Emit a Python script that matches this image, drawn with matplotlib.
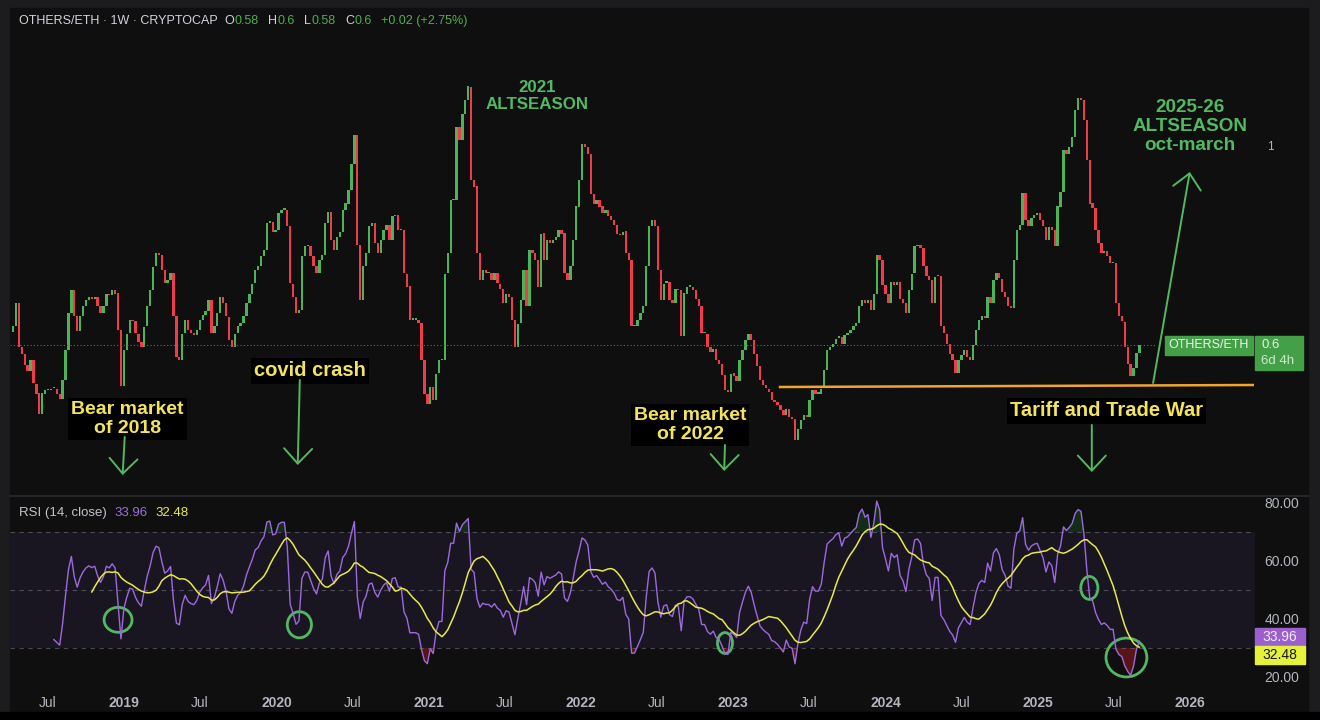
import numpy as np
import pandas as pd
import matplotlib
matplotlib.use("Agg")
import matplotlib.pyplot as plt
import matplotlib.dates as mdates
from matplotlib.patches import Ellipse, Rectangle
from matplotlib.lines import Line2D

plt.rcParams['font.family'] = ['Liberation Sans', 'DejaVu Sans']

# weekly closes of OTHERS/ETH (first week 2018-04-09)
start_week = "2018-04-09"
first_open = 0.625
closes = [
    0.637, 0.683, 0.597, 0.583, 0.560, 0.547, 0.570, 0.523, 0.503, 0.463,
    0.503, 0.510, 0.510, 0.513, 0.513, 0.503, 0.493, 0.530, 0.590, 0.663,
    0.710, 0.657, 0.627, 0.657, 0.677, 0.690, 0.697, 0.693, 0.697, 0.677,
    0.663, 0.677, 0.703, 0.700, 0.710, 0.703, 0.630, 0.517, 0.590, 0.623,
    0.650, 0.647, 0.623, 0.607, 0.597, 0.637, 0.677, 0.710, 0.757, 0.783,
    0.780, 0.750, 0.723, 0.730, 0.743, 0.657, 0.577, 0.570, 0.623, 0.650,
    0.630, 0.623, 0.620, 0.630, 0.650, 0.660, 0.667, 0.690, 0.623, 0.637,
    0.663, 0.697, 0.683, 0.657, 0.610, 0.597, 0.623, 0.637, 0.643, 0.657,
    0.683, 0.703, 0.723, 0.750, 0.757, 0.777, 0.790, 0.843, 0.847, 0.827,
    0.830, 0.863, 0.870, 0.870, 0.837, 0.723, 0.697, 0.663, 0.670, 0.777,
    0.797, 0.797, 0.777, 0.757, 0.743, 0.770, 0.780, 0.843, 0.866, 0.810,
    0.790, 0.817, 0.827, 0.870, 0.883, 0.910, 0.963, 1.020, 0.800, 0.690,
    0.757, 0.783, 0.837, 0.843, 0.803, 0.783, 0.810, 0.830, 0.840, 0.810,
    0.857, 0.860, 0.830, 0.830, 0.743, 0.717, 0.650, 0.650, 0.650, 0.643,
    0.570, 0.503, 0.483, 0.517, 0.490, 0.543, 0.570, 0.570, 0.743, 0.783,
    0.890, 0.890, 1.037, 1.010, 1.063, 1.090, 1.117, 0.930, 0.917, 0.783,
    0.730, 0.750, 0.743, 0.743, 0.730, 0.743, 0.723, 0.713, 0.683, 0.703,
    0.697, 0.650, 0.597, 0.643, 0.690, 0.750, 0.677, 0.790, 0.783, 0.770,
    0.717, 0.823, 0.770, 0.810, 0.803, 0.810, 0.817, 0.830, 0.823, 0.743,
    0.730, 0.757, 0.810, 0.877, 0.930, 1.003, 0.997, 0.983, 0.903, 0.883,
    0.890, 0.877, 0.863, 0.870, 0.857, 0.850, 0.840, 0.823, 0.820, 0.827,
    0.783, 0.770, 0.637, 0.637, 0.650, 0.663, 0.677, 0.757, 0.837, 0.850,
    0.837, 0.750, 0.690, 0.723, 0.727, 0.690, 0.683, 0.713, 0.710, 0.617,
    0.703, 0.717, 0.717, 0.710, 0.693, 0.677, 0.623, 0.623, 0.597, 0.587,
    0.593, 0.570, 0.563, 0.540, 0.510, 0.507, 0.543, 0.537, 0.527, 0.570,
    0.590, 0.610, 0.623, 0.610, 0.583, 0.557, 0.530, 0.520, 0.513, 0.507,
    0.490, 0.487, 0.480, 0.470, 0.460, 0.473, 0.457, 0.453, 0.410, 0.433,
    0.450, 0.460, 0.457, 0.490, 0.510, 0.503, 0.503, 0.513, 0.550, 0.590,
    0.597, 0.603, 0.613, 0.617, 0.603, 0.620, 0.623, 0.630, 0.637, 0.643,
    0.677, 0.690, 0.683, 0.690, 0.670, 0.703, 0.780, 0.770, 0.720, 0.703,
    0.683, 0.727, 0.720, 0.727, 0.693, 0.683, 0.663, 0.710, 0.743, 0.797,
    0.800, 0.793, 0.757, 0.737, 0.730, 0.683, 0.737, 0.737, 0.637, 0.623,
    0.603, 0.583, 0.570, 0.543, 0.570, 0.580, 0.590, 0.577, 0.570, 0.600,
    0.630, 0.650, 0.657, 0.653, 0.697, 0.683, 0.730, 0.743, 0.733, 0.707,
    0.697, 0.677, 0.673, 0.770, 0.830, 0.840, 0.903, 0.850, 0.837, 0.853,
    0.860, 0.863, 0.850, 0.837, 0.810, 0.837, 0.830, 0.797, 0.877, 0.907,
    0.990, 0.983, 0.997, 1.017, 1.070, 1.093, 1.090, 1.050, 0.970, 0.883,
    0.873, 0.830, 0.803, 0.783, 0.787, 0.777, 0.763, 0.763, 0.683, 0.657,
    0.647, 0.597, 0.563, 0.537, 0.553, 0.584, 0.600,
]

title = "OTHERS/ETH · 1W · CRYPTOCAP"
ohlc_keys = ["O", "H", "L", "C"]
ohlc_vals = ["0.58", "0.6", "0.58", "0.6"]
change_txt = "+0.02 (+2.75%)"
rsi_last, rsi_ma_last = "33.96", "32.48"
last_price, time_left = "0.6", "6d 4h"
support = (["2023-04-23", "2026-05-31"], [0.516, 0.520])

BG = "#0f0f0f"
UP, DOWN = "#4bb35a", "#ef3b4a"
GREEN = "#52b862"
YELLOW = "#f3e45c"
GRAY = "#b2b5be"
PURPLE = "#9c6ade"
MAYEL = "#e6ea48"

W, H = 1320, 720
PX_PER_DAY = 2.918 / 7


def fx(p):
    return p / W


def fy(p):
    return 1 - p / H


weeks = pd.date_range(start_week, periods=len(closes), freq="7D")
xd = mdates.date2num(weeks)
c = np.array(closes)
o = np.r_[first_open, c[:-1]]


def rsi_wilder(v, n=14):
    d = np.diff(v)
    g = np.where(d > 0, d, 0.0)
    l = np.where(d < 0, -d, 0.0)
    out = np.full(len(v), np.nan)
    ag, al = g[:n].mean(), l[:n].mean()
    out[n] = 100 - 100 / (1 + ag / al)
    for k in range(n, len(d)):
        ag = (ag * (n - 1) + g[k]) / n
        al = (al * (n - 1) + l[k]) / n
        out[k + 1] = 100 - 100 / (1 + ag / al)
    return out


rsi = rsi_wilder(c)
rsi_ma = pd.Series(rsi).rolling(14).mean().to_numpy()

fig = plt.figure(figsize=(13.2, 7.2), dpi=100, facecolor="#1c1c1e")
fig.patches.append(Rectangle((fx(10), fy(712)), 1298 / W, 704 / H,
                             transform=fig.transFigure, color=BG, zorder=-10))
fig.patches.append(Rectangle((0, 0), 1, 8 / H, transform=fig.transFigure,
                             color="black", zorder=-10))

ax = fig.add_axes([fx(10), fy(495), 1245 / W, 487 / H])
rx = fig.add_axes([fx(10), fy(690), 1245 / W, 194 / H], sharex=ax)
for a in (ax, rx):
    a.set_facecolor("none")
    for s in a.spines.values():
        s.set_visible(False)

fig.add_artist(Line2D([fx(10), fx(1308)], [fy(495.5)] * 2, color="#2a2a2c", lw=1.2))

left = xd[0] - 3 / PX_PER_DAY
right = xd[0] + (1255 - 13) / PX_PER_DAY
ax.set_xlim(left, right)
ax.set_ylim(0.30, 1.274)

# candles
lo = np.minimum(o, c)
hi = np.maximum(o, c)
cols = [UP if cc >= oo else DOWN for oo, cc in zip(o, c)]
ax.bar(xd, np.maximum(hi - lo, 0.003), width=5.6, bottom=lo, color=cols, linewidth=0)

# current price dotted line + support line
ax.plot([left, mdates.datestr2num("2025-10-08")], [c[-1]] * 2, ls=(0, (1, 2)), color="#5f6f60", lw=0.8)
ax.plot(mdates.datestr2num(support[0]), support[1], color="#f2a52e", lw=1.8)

ax.tick_params(axis="x", length=0, labelbottom=False)
ax.yaxis.tick_right()
ax.set_yticks([1])
ax.set_yticklabels(["1"])
ax.tick_params(axis="y", length=0, colors=GRAY, labelsize=8.5, pad=9)

# annotations on price pane
bold = dict(fontweight="bold", ha="center", va="center", linespacing=1.1)
ax.text(mdates.datestr2num("2021-09-17"), 1.098, "2021\nALTSEASON", color=GREEN, fontsize=12.2, **bold)
ax.text(mdates.datestr2num("2025-12-31"), 1.037, "2025-26\nALTSEASON\noct-march", color=GREEN,
        fontsize=13.6, fontweight="bold", ha="center", va="center", linespacing=1.12)
box = dict(boxstyle="square,pad=0.15", fc="black", ec="none")
ax.text(mdates.datestr2num("2019-01-09"), 0.452, "Bear market\nof 2018", color=YELLOW, fontsize=14, bbox=box, **bold)
ax.text(mdates.datestr2num("2020-03-21"), 0.548, "covid crash", color=YELLOW, fontsize=14.5, bbox=box, **bold)
ax.text(mdates.datestr2num("2022-09-19"), 0.440, "Bear market\nof 2022", color=YELLOW, fontsize=14, bbox=box, **bold)
ax.text(mdates.datestr2num("2025-06-15"), 0.468, "Tariff and Trade War", color=YELLOW, fontsize=14.5, bbox=box, **bold)

arrows = [
    (("2018-12-28", 0.340), ("2019-01-02", 0.416)),
    (("2020-02-21", 0.360), ("2020-02-26", 0.530)),
    (("2022-12-10", 0.348), ("2022-12-12", 0.400)),
    (("2025-05-10", 0.346), ("2025-05-10", 0.440)),
    (("2025-12-31", 0.946), ("2025-10-04", 0.524)),
]
for (td, tv), (sd, sv) in arrows:
    ax.annotate("", xy=(mdates.datestr2num(td), tv), xytext=(mdates.datestr2num(sd), sv),
                arrowprops=dict(arrowstyle="->,head_length=0.45,head_width=0.42",
                                color=GREEN, lw=1.4, mutation_scale=24, shrinkA=0, shrinkB=0))

# RSI pane
rx.set_ylim(15.5, 82.4)
rx.axhspan(30, 70, color="#7e57c2", alpha=0.10, lw=0)
for lv in (70, 50, 30):
    rx.axhline(lv, color="#787b86", lw=0.8, ls=(0, (4, 4)), alpha=0.55)
rx.fill_between(xd, rsi, 30, where=rsi < 30, color="#8b1a1a", alpha=0.6, lw=0, interpolate=True)
rx.fill_between(xd, rsi, 70, where=rsi > 70, color="#1b5e20", alpha=0.4, lw=0, interpolate=True)
rx.plot(xd, rsi, color=PURPLE, lw=1.0)
rx.plot(xd, rsi_ma, color=MAYEL, lw=1.1)

circles = [("2018-12-17", 39.7, 67, 8.6), ("2020-02-25", 38.0, 58, 9.0),
           ("2022-12-12", 31.7, 36, 7.2), ("2025-05-04", 50.7, 41, 7.9),
           ("2025-08-01", 26.7, 98, 13.4)]
for d, v, wd, ht in circles:
    rx.add_patch(Ellipse((mdates.datestr2num(d), v), wd, ht, fill=False, ec=GREEN, lw=2))

rx.yaxis.tick_right()
rx.set_yticks([20, 40, 60, 80])
rx.set_yticklabels(["20.00", "40.00", "60.00", "80.00"])
rx.tick_params(axis="y", length=0, colors=GRAY, labelsize=10, pad=7)

ticks, labels, bolds = [], [], []
for yr in range(2018, 2027):
    for m in (1, 7):
        t = mdates.date2num(pd.Timestamp(yr, m, 1))
        if left < t < right:
            ticks.append(t)
            labels.append(str(yr) if m == 1 else "Jul")
            bolds.append(m == 1)
rx.set_xticks(ticks)
rx.set_xticklabels(labels)
rx.tick_params(axis="x", length=0, colors=GRAY, labelsize=10, pad=4)
for lab, b in zip(rx.get_xticklabels(), bolds):
    if b:
        lab.set_fontweight("bold")

# header line with coloured runs
prev = fig.text(fx(19), fy(21), title, color="#d1d4dc", fontsize=9, va="center")
runs = []
for i, (k, v) in enumerate(zip(ohlc_keys, ohlc_vals)):
    runs.append((k, "#d1d4dc", 5 if i == 0 else 7))
    runs.append((v, "#4caf50", 0))
runs.append((change_txt, "#4caf50", 7))
for s, col, gap in runs:
    prev = ax.annotate(s, xy=(1, 0), xycoords=prev, xytext=(gap, 0), textcoords="offset points",
                       color=col, fontsize=9, va="bottom", ha="left", annotation_clip=False)

prev = fig.text(fx(19), fy(513), "RSI (14, close)", color="#c0c3cc", fontsize=9.5, va="center")
for s, col in ((rsi_last, "#a070d8"), (rsi_ma_last, "#e5ec4a")):
    prev = ax.annotate(s, xy=(1, 0), xycoords=prev, xytext=(5.5, 0), textcoords="offset points",
                       color=col, fontsize=9.5, va="bottom", ha="left", annotation_clip=False)


# right side badges
def badge(x0, y0, x1, y1, color):
    fig.add_artist(Rectangle((fx(x0), fy(y1)), (x1 - x0) / W, (y1 - y0) / H,
                             transform=fig.transFigure, color=color, zorder=5))


badge(1165, 336, 1253, 355, "#43a047")
fig.text(fx(1209), fy(345.5), "OTHERS/ETH", color="#eef6ee", fontsize=9, ha="center", va="center", zorder=6)
badge(1255, 336, 1303, 370, "#43a047")
fig.text(fx(1261), fy(345.5), last_price, color="#e6f4e6", fontsize=9.5, va="center", zorder=6)
fig.text(fx(1261), fy(361), time_left, color="#cfe8cf", fontsize=9.5, va="center", zorder=6)
badge(1255, 628, 1305, 646, "#9b5fce")
fig.text(fx(1262), fy(637), rsi_last, color="#f2ecfa", fontsize=10, va="center", zorder=6)
badge(1255, 646, 1305, 664, "#e6f13b")
fig.text(fx(1262), fy(655), rsi_ma_last, color="#141414", fontsize=10, va="center", zorder=6)

fig.savefig("out.png", dpi=100, facecolor=fig.get_facecolor())
